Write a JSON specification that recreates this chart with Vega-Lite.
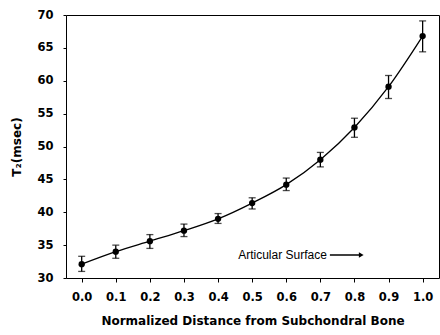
{
  "$schema": "https://vega.github.io/schema/vega-lite/v6.json",
  "width": 373,
  "height": 263,
  "autosize": "none",
  "padding": {"left": 66, "top": 15, "right": 1, "bottom": 57},
  "config": {
    "view": {"stroke": "black", "strokeWidth": 1},
    "font": "DejaVu Sans",
    "axis": {
      "grid": false,
      "domainColor": "black",
      "tickColor": "black",
      "labelColor": "black",
      "titleColor": "black",
      "labelFont": "DejaVu Sans",
      "titleFont": "DejaVu Sans",
      "labelFontWeight": "bold",
      "titleFontWeight": "bold",
      "labelFontSize": 11.5,
      "titleFontSize": 12
    }
  },
  "datasets": {
    "pts": [
      {"d": 0.0, "t2": 32.1, "lo": 31.0, "hi": 33.3},
      {"d": 0.1, "t2": 34.0, "lo": 33.0, "hi": 35.0},
      {"d": 0.2, "t2": 35.6, "lo": 34.5, "hi": 36.6},
      {"d": 0.3, "t2": 37.2, "lo": 36.3, "hi": 38.2},
      {"d": 0.4, "t2": 39.0, "lo": 38.3, "hi": 39.8},
      {"d": 0.5, "t2": 41.4, "lo": 40.5, "hi": 42.2},
      {"d": 0.6, "t2": 44.2, "lo": 43.3, "hi": 45.2},
      {"d": 0.7, "t2": 48.0, "lo": 46.9, "hi": 49.1},
      {"d": 0.8, "t2": 52.9, "lo": 51.4, "hi": 54.3},
      {"d": 0.9, "t2": 59.1, "lo": 57.3, "hi": 60.8},
      {"d": 1.0, "t2": 66.8, "lo": 64.4, "hi": 69.1}
    ],
    "note": [{"x": 0.459, "x2": 0.82, "xa": 0.728, "y": 33.5, "label": "Articular Surface"}]
  },
  "encoding": {
    "x": {
      "field": "d",
      "type": "quantitative",
      "scale": {"domain": [-0.046, 1.048], "nice": false, "zero": false},
      "axis": {
        "values": [0, 0.1, 0.2, 0.3, 0.4, 0.5, 0.6, 0.7, 0.8, 0.9, 1.0],
        "format": ".1f",
        "tickSize": 4,
        "labelPadding": 9,
        "title": "Normalized Distance from Subchondral Bone",
        "titlePadding": 13,
        "domain": false
      }
    },
    "y": {
      "field": "t2",
      "type": "quantitative",
      "scale": {"domain": [30, 70], "nice": false, "zero": false},
      "axis": {
        "values": [30, 35, 40, 45, 50, 55, 60, 65, 70],
        "tickSize": 3,
        "labelPadding": 10,
        "title": "T₂(msec)",
        "titlePadding": 13,
        "domain": false
      }
    }
  },
  "layer": [
    {
      "data": {"name": "pts"},
      "mark": {"type": "line", "interpolate": "monotone", "color": "black", "strokeWidth": 1.3}
    },
    {
      "data": {"name": "pts"},
      "mark": {"type": "errorbar", "ticks": {"size": 7, "color": "black", "thickness": 1.3}, "rule": {"color": "black", "strokeWidth": 1.3}},
      "encoding": {
        "y": {"field": "lo", "type": "quantitative"},
        "y2": {"field": "hi"}
      }
    },
    {
      "data": {"name": "pts"},
      "mark": {"type": "point", "filled": true, "color": "black", "size": 40, "opacity": 1}
    },
    {
      "data": {"name": "note"},
      "mark": {"type": "text", "align": "left", "baseline": "middle", "fontSize": 12, "color": "black", "font": "Liberation Sans"},
      "encoding": {
        "x": {"field": "x", "type": "quantitative"},
        "y": {"field": "y", "type": "quantitative"},
        "text": {"field": "label"}
      }
    },
    {
      "data": {"name": "note"},
      "mark": {"type": "rule", "color": "black", "strokeWidth": 1.3},
      "encoding": {
        "x": {"field": "xa", "type": "quantitative"},
        "x2": {"field": "x2"},
        "y": {"field": "y", "type": "quantitative"}
      }
    },
    {
      "data": {"name": "note"},
      "mark": {"type": "point", "shape": "triangle-right", "filled": true, "color": "black", "size": 30, "opacity": 1},
      "encoding": {
        "x": {"field": "x2", "type": "quantitative"},
        "y": {"field": "y", "type": "quantitative"}
      }
    }
  ]
}
